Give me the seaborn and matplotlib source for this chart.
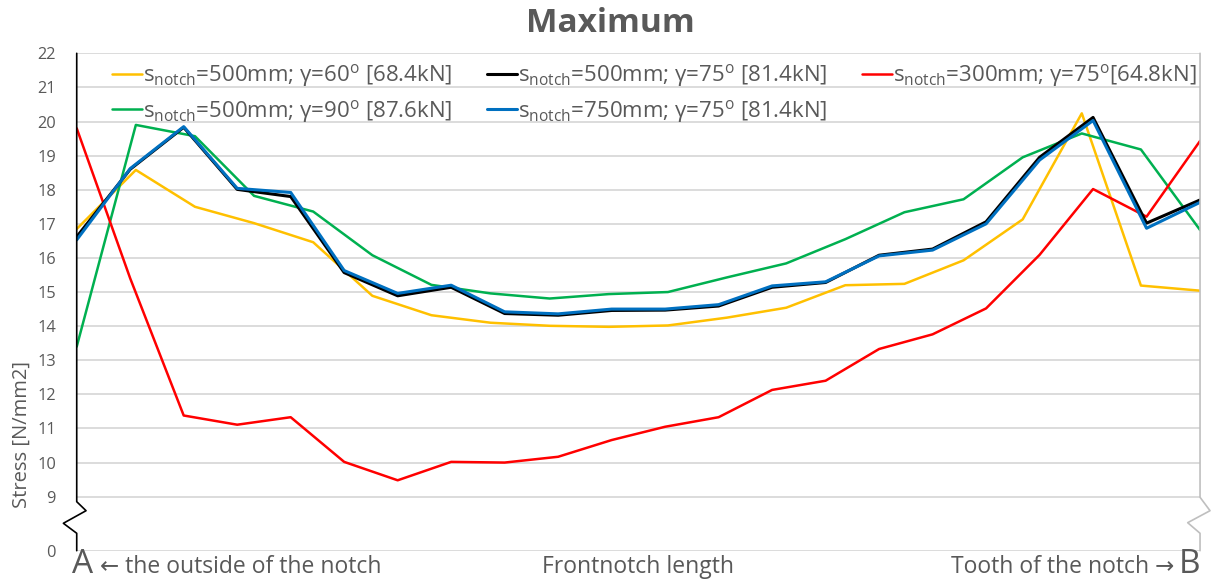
import numpy as np
import pandas as pd
import matplotlib
matplotlib.use("Agg")
import matplotlib.pyplot as plt
from matplotlib.lines import Line2D
import seaborn as sns

# ---- data -------------------------------------------------------------
# measuring stations along the front notch (fraction of length, A -> B)
stations_22 = np.linspace(0.0, 1.0, 22)
stations_20 = np.linspace(0.0, 1.0, 20)

stress_500_60 = [16.85, 18.58, 17.50, 17.02, 16.46, 14.89, 14.32, 14.10, 14.01, 13.98,
                 14.02, 14.25, 14.54, 15.20, 15.24, 15.93, 17.13, 20.24, 15.19, 15.04]
stress_500_90 = [13.40, 19.90, 19.57, 17.82, 17.36, 16.08, 15.21, 14.96, 14.81, 14.94,
                 15.00, 15.43, 15.84, 16.55, 17.34, 17.72, 18.95, 19.65, 19.18, 16.82]
stress_300_75 = [19.80, 15.40, 11.38, 11.11, 11.33, 10.02, 9.48, 10.02, 10.00, 10.17, 10.66,
                 11.05, 11.33, 12.13, 12.40, 13.33, 13.76, 14.52, 16.09, 18.02, 17.21, 19.43]
stress_500_75 = [16.62, 18.60, 19.83, 18.01, 17.80, 15.57, 14.89, 15.14, 14.37, 14.32, 14.46,
                 14.47, 14.59, 15.14, 15.28, 16.08, 16.26, 17.06, 18.95, 20.12, 17.02, 17.70]
stress_750_75 = [16.53, 18.62, 19.85, 18.04, 17.92, 15.63, 14.96, 15.20, 14.42, 14.36, 14.50,
                 14.50, 14.63, 15.18, 15.30, 16.06, 16.23, 17.00, 18.87, 20.03, 16.87, 17.63]

labels = {
    "500_60": r"$\mathrm{s_{notch}}$=500mm; γ=60$^{\mathrm{o}}$ [68.4kN]",
    "500_90": r"$\mathrm{s_{notch}}$=500mm; γ=90$^{\mathrm{o}}$ [87.6kN]",
    "300_75": r"$\mathrm{s_{notch}}$=300mm; γ=75$^{\mathrm{o}}$[64.8kN]",
    "500_75": r"$\mathrm{s_{notch}}$=500mm; γ=75$^{\mathrm{o}}$ [81.4kN]",
    "750_75": r"$\mathrm{s_{notch}}$=750mm; γ=75$^{\mathrm{o}}$ [81.4kN]",
}
y_ticks = [0] + list(range(9, 23))

# ---- style -------------------------------------------------------------
sns.set_theme(style="white")
plt.rcParams["font.family"] = ["Open Sans", "DejaVu Sans"]
plt.rcParams["mathtext.fontset"] = "custom"
plt.rcParams["mathtext.rm"] = "Open Sans"
plt.rcParams["mathtext.it"] = "Open Sans:italic"
plt.rcParams["mathtext.bf"] = "Open Sans:bold"
TXT = "#595959"

series = [
    ("500_60", stations_20, stress_500_60, "#FFC000", 1.8),
    ("500_90", stations_20, stress_500_90, "#00B050", 1.8),
    ("300_75", stations_22, stress_300_75, "#FF0000", 1.8),
    ("500_75", stations_22, stress_500_75, "#000000", 2.2),
    ("750_75", stations_22, stress_750_75, "#0070C0", 2.2),
]

fig = plt.figure(figsize=(12.14, 5.82), dpi=100)
ax = fig.add_axes([0.0632, 0.0538, 0.9253, 0.8546])

# broken stress axis: 0..9 compressed into a short gap
GAP = 1.584
def fwd(y):
    y = np.asarray(y, dtype=float)
    return np.where(y >= 9, y, 9 - GAP * (9 - y) / 9)
def inv(s):
    s = np.asarray(s, dtype=float)
    return np.where(s >= 9, s, 9 - (9 - s) * 9 / GAP)
ax.set_yscale("function", functions=(fwd, inv))

handles = {}
for key, x, y, color, lw in series:
    df = pd.DataFrame({"pos": x, "stress": y})
    sns.lineplot(data=df, x="pos", y="stress", color=color, lw=lw, ax=ax,
                 sort=False, estimator=None, legend=False)
    handles[key] = Line2D([], [], color=color, lw=lw)

ax.set_xlim(0, 1)
ax.set_ylim(0, 22)
ax.set_yticks(y_ticks)
ax.set_yticklabels([str(t) for t in y_ticks])
ax.set_xticks([])
ax.set_xlabel("")
ax.set_ylabel("")
ax.tick_params(axis="y", length=0, pad=15.0, labelsize=11.8, labelcolor=TXT)
ax.yaxis.grid(True, color="#D9D9D9", lw=1.3)
ax.set_axisbelow(True)
for sp in ax.spines.values():
    sp.set_visible(False)

# axis lines with break marks
ax.plot([0, 0, 0.0083, -0.0119, 0, 0], [1, 0.0985, 0.0804, 0.0551, 0.035, 0],
        transform=ax.transAxes, color="black", lw=1.2, clip_on=False)
ax.plot([1, 1, 1.0089, 0.9890, 1, 1], [1, 0.1074, 0.0804, 0.0563, 0.035, 0],
        transform=ax.transAxes, color="#BFBFBF", lw=1.2, clip_on=False)

# legend: rows (500/60, 500/75, 300/75) and (500/90, 750/75)
order = ["500_60", "500_90", "500_75", "750_75", "300_75"]
leg = ax.legend([handles[k] for k in order], [labels[k] for k in order],
                ncol=3, loc="upper left", bbox_to_anchor=(0.0235, 1.0),
                frameon=False, fontsize=16, handlelength=1.35,
                handletextpad=0.05, columnspacing=1.55, labelspacing=0.38,
                borderaxespad=0)
for t in leg.get_texts():
    t.set_color(TXT)

# title and axis texts
fig.text(0.503, 1 - 23 / 582, "Maximum", ha="center", va="center",
         fontsize=24, fontweight="bold", color=TXT)
fig.text(22 / 1214, 1 - 434 / 582, "Stress [N/mm2]", rotation=90,
         ha="center", va="center", fontsize=14.5, color=TXT)

base = 1 - 573 / 582
fig.text(72 / 1214, base, "A", ha="left", va="baseline", fontsize=24, color=TXT)
fig.text(100 / 1214, base, "← the outside of the notch", ha="left",
         va="baseline", fontsize=16.5, color=TXT)
fig.text(638 / 1214, base, "Frontnotch length", ha="center",
         va="baseline", fontsize=16.5, color=TXT)
fig.text(1200 / 1214, base, "B", ha="right", va="baseline", fontsize=24, color=TXT)
fig.text(1174 / 1214, base, "Tooth of the notch →", ha="right",
         va="baseline", fontsize=16.5, color=TXT)

fig.savefig("out.png", dpi=100)
